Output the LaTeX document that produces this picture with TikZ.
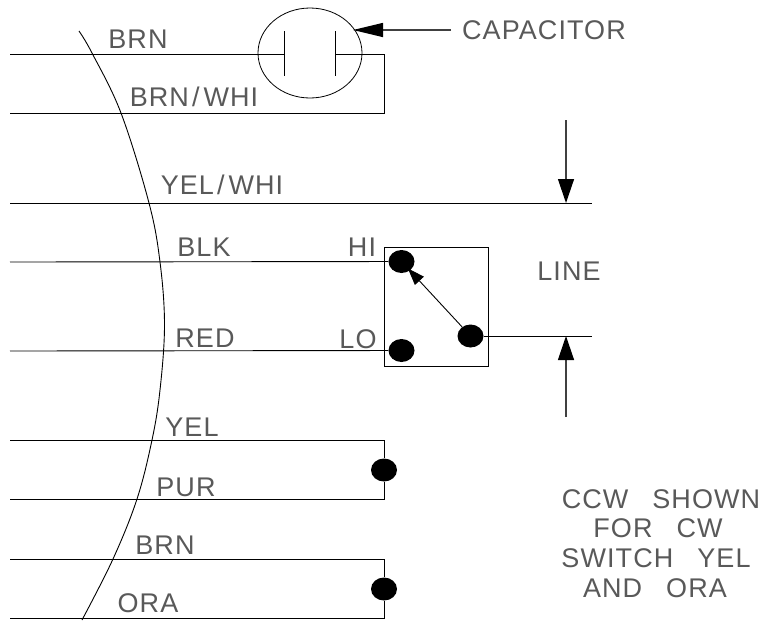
\documentclass[tikz,border=0pt]{standalone}
\usepackage{fontspec}
\setmainfont[LetterSpace=4]{Liberation Sans}
\usetikzlibrary{arrows.meta}
\usetikzlibrary{shapes.geometric}
\newcommand{\tagfont}{\fontsize{27}{30}\selectfont\setlength{\spaceskip}{24pt}}
\newcommand{\slashgap}{\kern3pt/\kern4pt}
\tikzset{
	wire/.style={draw=black, line width=.9pt},
	pointer/.style={draw=black!75, line width=1.3pt, -{Triangle[length=24pt, width=16pt, color=black]}},
	swing/.style={draw=black, line width=.9pt, shorten >=-3pt, -{Triangle[length=17pt, width=12pt]}},
	dot/.style={
		ellipse,
		fill=black,
		inner sep=0pt,
		minimum width=26pt,
		minimum height=23pt},
	tag/.style={
		inner sep=0pt,
		text=black!65,
		font=\tagfont},
}

\begin{document}
\begin{tikzpicture}
	[x=1pt, y=-1pt]
	\useasboundingbox (0,0) rectangle (762,622);
	% wire ends
	\coordinate (brnA) at (10,54);
	\coordinate (brnB) at (384,54);
	\coordinate (bwA) at (10,113);
	\coordinate (bwB) at (384,113);
	\coordinate (ywA) at (10,203);
	\coordinate (ywB) at (592,203);
	\coordinate (blkA) at (10,262);
	\coordinate (redA) at (10,351);
	\coordinate (yelA) at (10,440);
	\coordinate (yelB) at (384,440);
	\coordinate (purA) at (10,499);
	\coordinate (purB) at (384,499);
	\coordinate (brtA) at (10,559);
	\coordinate (brtB) at (384,559);
	\coordinate (oraA) at (10,618);
	\coordinate (oraB) at (384,618);
	\coordinate (lineB) at (592,336);
	% capacitor
	\node[ellipse, draw, line width=.8pt, minimum width=104pt, minimum height=90pt, inner sep=0pt] (cap) at (310,53) {};
	\coordinate (plateL) at (284,54);
	\coordinate (plateR) at (335,54);
	\draw[wire] (brnA) -- (plateL);
	\draw[wire] (plateR) -- (brnB) -- (bwB) -- (bwA);
	\draw[wire] (284,31) -- (284,76);
	\draw[wire] (335,31) -- (335,76);
	% switch
	\node[draw, line width=.9pt, minimum width=104pt, minimum height=119pt, inner sep=0pt] (sw) at (436,306.5) {};
	\node[dot] (hi) at (401.5,261.5) {};
	\node[dot] (lo) at (401.5,350.5) {};
	\node[dot] (com) at (470.5,336) {};
	\draw[wire] (blkA) -- (hi);
	\draw[wire] (redA) -- (lo);
	\draw[wire] (com) -- (lineB);
	\draw[swing] (com) -- (hi);
	% other wires
	\draw[wire] (ywA) -- (ywB);
	\node[dot] (jointA) at (384,470) {};
	\node[dot] (jointB) at (384,589) {};
	\draw[wire] (yelA) -- (yelB) -- (jointA) -- (purB) -- (purA);
	\draw[wire] (brtA) -- (brtB) -- (jointB) -- (oraB) -- (oraA);
	% break line
	\draw[wire] plot[smooth, tension=.6] coordinates {(79,31) (92,53) (121,113) (149,203) (160,262) (164.5,325) (160,390) (152,440) (137,499) (113,559) (82,620)};
	% arrows
	\coordinate (capTail) at (451,30);
	\coordinate (capTip) at (353,30);
	\draw[pointer, -{Triangle[length=30pt, width=14pt, color=black]}] (capTail) -- (capTip);
	\coordinate (downTail) at (566,120);
	\coordinate (downTip) at (566,203);
	\draw[pointer] (downTail) -- (downTip);
	\coordinate (upTail) at (566,417);
	\coordinate (upTip) at (566,336);
	\draw[pointer] (upTail) -- (upTip);
	% labels
	\node[tag] (tCap) at (544,30) {CAPACITOR};
	\node[tag] (tBrn) at (138,39) {BRN};
	\node[tag] (tBw) at (194,97) {BRN\slashgap WHI};
	\node[tag] (tYw) at (222,185) {YEL\slashgap WHI};
	\node[tag] (tBlk) at (204,247) {BLK};
	\node[tag] (tRed) at (205,338) {RED};
	\node[tag] (tHi) at (362,247) {HI};
	\node[tag] (tLo) at (358,339) {LO};
	\node[tag] (tLine) at (569,271) {LINE};
	\node[tag] (tYel) at (192,427) {YEL};
	\node[tag] (tPur) at (186,487) {PUR};
	\node[tag] (tBrt) at (165,545) {BRN};
	\node[tag] (tOra) at (148,603) {ORA};
	\node[tag] (tCcw) at (661,499) {CCW SHOWN};
	\node[tag] (tFor) at (658,528) {FOR CW};
	\node[tag] (tSwi) at (656,558) {SWITCH YEL};
	\node[tag] (tAnd) at (655,588) {AND ORA};
\end{tikzpicture}
\end{document}
